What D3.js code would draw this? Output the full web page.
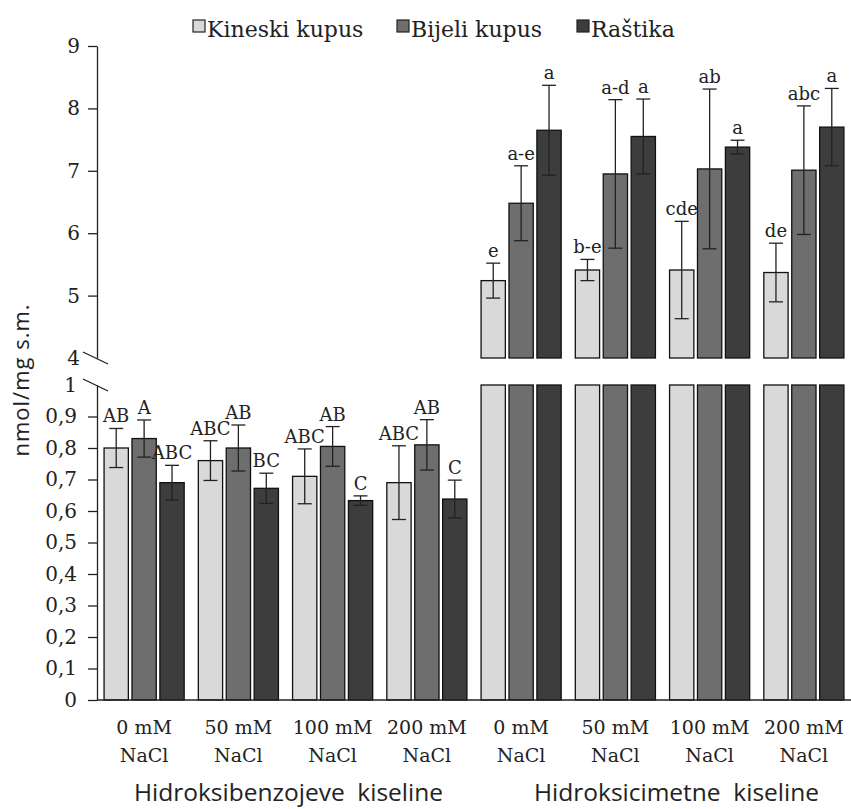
<!DOCTYPE html>
<html>
<head>
<meta charset="utf-8">
<script src="https://cdn.jsdelivr.net/npm/d3@7"></script>
<style>
  html, body { margin: 0; padding: 0; background: #fff; }
  svg { display: block; }
</style>
</head>
<body>
<svg id="chart" width="851" height="809"></svg>
<script>
// ---------------- data ----------------
const categories = ["0 mM", "50 mM", "100 mM", "200 mM", "0 mM", "50 mM", "100 mM", "200 mM"];
const categorySub = "NaCl";
const groupTitles = ["Hidroksibenzojeve  kiseline", "Hidroksicimetne  kiseline"];
const seriesNames = ["Kineski kupus", "Bijeli kupus", "Raštika"];

const kineski    = [0.80, 0.76, 0.71, 0.69, 5.24, 5.41, 5.41, 5.37];
const kineskiErr = [0.062, 0.063, 0.087, 0.117, 0.28, 0.17, 0.78, 0.47];
const kineskiLbl = ["AB", "ABC", "ABC", "ABC", "e", "b-e", "cde", "de"];

const bijeli     = [0.83, 0.80, 0.805, 0.81, 6.48, 6.95, 7.03, 7.01];
const bijeliErr  = [0.059, 0.073, 0.063, 0.08, 0.60, 1.19, 1.28, 1.03];
const bijeliLbl  = ["A", "AB", "AB", "AB", "a-e", "a-d", "ab", "abc"];

const rastika    = [0.69, 0.672, 0.633, 0.638, 7.65, 7.55, 7.38, 7.70];
const rastikaErr = [0.055, 0.048, 0.015, 0.06, 0.72, 0.60, 0.11, 0.62];
const rastikaLbl = ["ABC", "BC", "C", "C", "a", "a", "a", "a"];

const lowTicks  = [0, 0.1, 0.2, 0.3, 0.4, 0.5, 0.6, 0.7, 0.8, 0.9, 1];
const highTicks = [4, 5, 6, 7, 8, 9];

const colors = ["#d9d9d9", "#6e6e6e", "#3d3d3d"];

// ---------------- build ----------------
const seriesValues = [kineski, bijeli, rastika];
const seriesErrs = [kineskiErr, bijeliErr, rastikaErr];
const seriesLbls = [kineskiLbl, bijeliLbl, rastikaLbl];

const rows = [];
categories.forEach((c, i) => {
  seriesNames.forEach((s, j) => {
    rows.push({ cat: i, series: s, si: j, v: seriesValues[j][i], e: seriesErrs[j][i], lbl: seriesLbls[j][i] });
  });
});

const svg = d3.select("#chart");
const serif = "'DejaVu Serif', serif";
const sans = "'Open Sans', sans-serif";

const axisX = 97, rightX = 851, baseY = 700;

const x = d3.scaleBand().domain(d3.range(categories.length)).range([axisX, rightX]).paddingInner(0.15).paddingOuter(0.075);
const xs = d3.scaleBand().domain(seriesNames).range([0, x.bandwidth()]).paddingInner(0.13).paddingOuter(0);

const yLow = d3.scaleLinear().domain([0, 1]).range([baseY, 385]);
const yHigh = d3.scaleLinear().domain([4, 9]).range([358, 46]);

const fmt = d3.formatLocale({ decimal: ",", thousands: ".", grouping: [3], currency: ["", ""] }).format("");

// Bars
const gBars = svg.append("g");
rows.forEach(r => {
  const bx = x(r.cat) + xs(r.series);
  const bw = xs.bandwidth();
  if (r.v <= 1) {
    gBars.append("rect").attr("x", bx).attr("y", yLow(r.v)).attr("width", bw).attr("height", yLow(0) - yLow(r.v))
      .attr("fill", colors[r.si]).attr("stroke", "#111").attr("stroke-width", 1.3);
  } else {
    gBars.append("rect").attr("x", bx).attr("y", yLow(1)).attr("width", bw).attr("height", yLow(0) - yLow(1))
      .attr("fill", colors[r.si]).attr("stroke", "#111").attr("stroke-width", 1.3);
    gBars.append("rect").attr("x", bx).attr("y", yHigh(r.v)).attr("width", bw).attr("height", yHigh(4) - yHigh(r.v))
      .attr("fill", colors[r.si]).attr("stroke", "#111").attr("stroke-width", 1.3);
  }
});

// Error bars and letters
const gErr = svg.append("g").attr("stroke", "#222").attr("stroke-width", 1.3);
const gLbl = svg.append("g").attr("font-family", serif).attr("font-size", 18).attr("fill", "#222").attr("text-anchor", "middle");
rows.forEach(r => {
  const y = r.v <= 1 ? yLow : yHigh;
  const cx = x(r.cat) + xs(r.series) + xs.bandwidth() / 2;
  const yt = y(r.v + r.e), yb = y(r.v - r.e);
  gErr.append("line").attr("x1", cx).attr("x2", cx).attr("y1", yt).attr("y2", yb);
  gErr.append("line").attr("x1", cx - 7).attr("x2", cx + 7).attr("y1", yt).attr("y2", yt);
  gErr.append("line").attr("x1", cx - 7).attr("x2", cx + 7).attr("y1", yb).attr("y2", yb);
  gLbl.append("text").attr("x", cx).attr("y", yt - 6).text(r.lbl);
});

// Axes
function styleAxis(g, noTickValues) {
  g.select(".domain").attr("stroke", "#222").attr("stroke-width", 1.3);
  g.selectAll(".tick line").attr("stroke", "#222").attr("stroke-width", 1.3);
  g.selectAll(".tick text").attr("font-family", serif).attr("font-size", 20).attr("fill", "#222");
  g.selectAll(".tick").filter(d => noTickValues.includes(d)).select("line").remove();
}
const axLow = svg.append("g").attr("transform", `translate(${axisX},0)`)
  .call(d3.axisLeft(yLow).tickValues(lowTicks).tickFormat(fmt).tickSize(9).tickSizeOuter(0).tickPadding(11));
styleAxis(axLow, [1]);
const axHigh = svg.append("g").attr("transform", `translate(${axisX},0)`)
  .call(d3.axisLeft(yHigh).tickValues(highTicks).tickFormat(fmt).tickSize(9).tickSizeOuter(0).tickPadding(8));
styleAxis(axHigh, [4]);

// Break marks
const gBreak = svg.append("g").attr("stroke", "#222").attr("stroke-width", 1.3);
[yHigh(4), yLow(1)].forEach(yy => {
  gBreak.append("line").attr("x1", axisX - 14).attr("y1", yy - 6).attr("x2", axisX + 11).attr("y2", yy + 6);
});

// X axis baseline
svg.append("line").attr("x1", axisX).attr("x2", rightX).attr("y1", baseY).attr("y2", baseY)
  .attr("stroke", "#222").attr("stroke-width", 1.5);

// Category labels
const gCat = svg.append("g").attr("font-family", serif).attr("font-size", 19).attr("fill", "#222").attr("text-anchor", "middle");
categories.forEach((c, i) => {
  const cx = x(i) + x.bandwidth() / 2;
  gCat.append("text").attr("x", cx).attr("y", 734).text(c);
  gCat.append("text").attr("x", cx).attr("y", 762).text(categorySub);
});

// Group titles
const g1c = (x(0) + x(3) + x.bandwidth()) / 2 + 3;
const g2c = (x(4) + x(7) + x.bandwidth()) / 2 + 14;
svg.append("g").attr("font-family", sans).attr("font-size", 24.5).attr("fill", "#222").attr("text-anchor", "middle")
  .selectAll("text").data(groupTitles).join("text")
  .attr("x", (d, i) => i === 0 ? g1c : g2c).attr("y", 801).attr("xml:space", "preserve").style("white-space", "pre").text(d => d);

// Y axis title
svg.append("text").attr("transform", "translate(29,380) rotate(-90)")
  .attr("font-family", sans).attr("font-size", 22).attr("letter-spacing", 1).attr("fill", "#222").attr("text-anchor", "middle")
  .text("nmol/mg s.m.");

// Legend
const legendX = [193, 397, 577];
const gLeg = svg.append("g");
seriesNames.forEach((s, j) => {
  gLeg.append("rect").attr("x", legendX[j]).attr("y", 20).attr("width", 12).attr("height", 12)
    .attr("fill", colors[j]).attr("stroke", "#222").attr("stroke-width", 1.2);
  gLeg.append("text").attr("x", legendX[j] + 14).attr("y", 37).attr("font-family", serif).attr("font-size", 22)
    .attr("fill", "#222").text(s);
});
</script>
</body>
</html>
